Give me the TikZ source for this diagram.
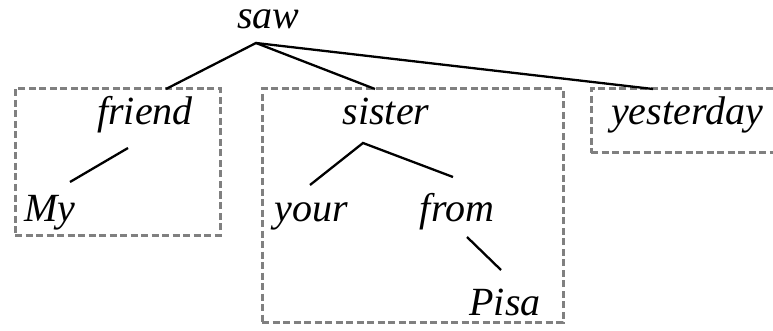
\documentclass[tikz,border=0pt]{standalone}
\usepackage{fontspec}
\newfontfamily\wordfont{Liberation Serif Italic}
\begin{document}
\begin{tikzpicture}[x=1pt,y=-1pt,
  word/.style={font=\fontsize{40}{48}\selectfont\wordfont, anchor=base, inner sep=0pt, text height=0.6em},
  box/.style={draw=black!50, line width=3pt, dash pattern=on 7pt off 3.5pt, inner sep=0pt, rectangle},
  edge/.style={line width=2.3pt, black}]
\useasboundingbox (0,0) rectangle (773,331);
% boxes
\node[box, minimum width=205pt, minimum height=146pt] (b1) at (117.5,162) {};
\node[box, minimum width=301pt, minimum height=233pt] (b2) at (412.5,205.5) {};
\node[box, minimum width=185pt, minimum height=64pt] (b3) at (683.5,121) {};
% words
\node[word] (saw) at (268.5,29) {saw};
\node[word] (friend) at (145,125) {friend};
\node[word] (my) at (50,222) {My};
\node[word] (sister) at (386,125) {sister};
\node[word] (your) at (311,222) {your};
\node[word] (from) at (457,222) {from};
\node[word] (pisa) at (505,315) {Pisa};
\node[word] (yest) at (687,125) {yesterday};
% connector points
\coordinate (sj) at (256,43);
\coordinate (e1) at (166,89);
\coordinate (e2) at (375,89);
\coordinate (e3) at (653,89);
\coordinate (fa) at (128,148);
\coordinate (fb) at (70,182);
\coordinate (sj2) at (363,143);
\coordinate (ya) at (310,185);
\coordinate (fra) at (453,177);
\coordinate (pa) at (467,237);
\coordinate (pb) at (501,270);
% connectors
\draw[edge] (e1) -- (sj) -- (e2);
\draw[edge] (sj) -- (e3);
\draw[edge] (fa) -- (fb);
\draw[edge] (ya) -- (sj2) -- (fra);
\draw[edge] (pa) -- (pb);
\end{tikzpicture}
\end{document}
